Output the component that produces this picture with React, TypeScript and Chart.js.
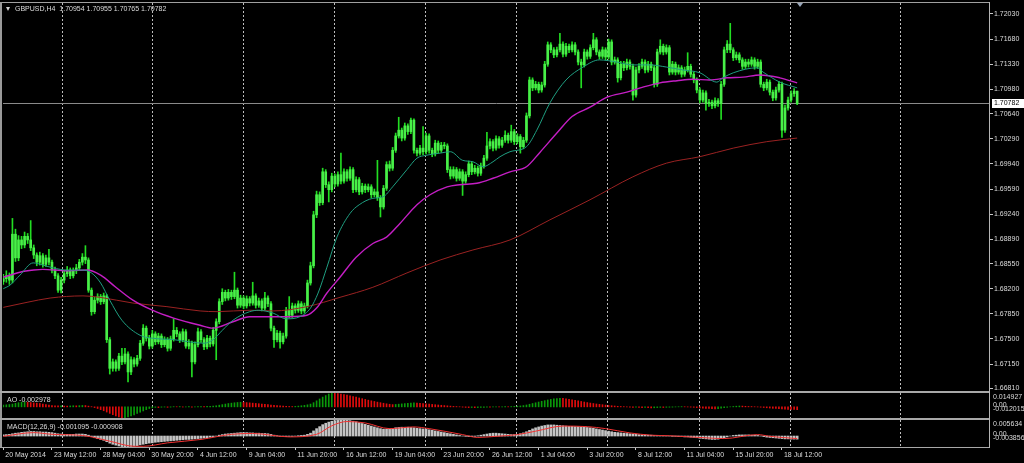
import React, { useEffect, useRef } from 'react';
import { Chart, registerables } from 'chart.js';

Chart.register(...registerables);

const FONT = '"Liberation Sans", Arial, sans-serif';

const symbolTitle = 'GBPUSD,H4';
const firstOpen = 1.683;

const closes = [
  1.6834, 1.6838, 1.6832, 1.6896, 1.6863, 1.6888, 1.6881, 1.6893, 1.6888, 1.6877,
  1.6867, 1.6857, 1.6866, 1.6854, 1.6863, 1.6857, 1.6846, 1.6838, 1.6818, 1.6832,
  1.6841, 1.6846, 1.6838, 1.6845, 1.6849, 1.6857, 1.6864, 1.686, 1.6818, 1.6788,
  1.6804, 1.6809, 1.6802, 1.681, 1.6749, 1.6709, 1.6718, 1.6709, 1.6726, 1.6718,
  1.6729, 1.6704, 1.6721, 1.6715, 1.6723, 1.6744, 1.6765, 1.6751, 1.674, 1.6757,
  1.6746, 1.6754, 1.6742, 1.6749, 1.6737, 1.675, 1.6762, 1.6757, 1.6749, 1.676,
  1.674, 1.6744, 1.6718, 1.6742, 1.676, 1.6749, 1.6739, 1.6751, 1.6743, 1.6762,
  1.6774, 1.6802, 1.6815, 1.6807, 1.6815, 1.6809, 1.6818, 1.6797, 1.6807, 1.6796,
  1.6806, 1.68, 1.681, 1.6797, 1.6803, 1.6793, 1.6807, 1.6799, 1.6765, 1.6749,
  1.6758, 1.6746, 1.6754, 1.679, 1.6783, 1.6796, 1.679, 1.6799, 1.6789, 1.6796,
  1.6828, 1.6852, 1.6923, 1.6951, 1.694, 1.6983, 1.6965, 1.6958, 1.6977, 1.6966,
  1.6979, 1.697, 1.6983, 1.6974, 1.6986, 1.6958, 1.6972, 1.6955, 1.6963, 1.6958,
  1.6962, 1.6951, 1.6955, 1.6947, 1.6934, 1.696, 1.6993, 1.6988, 1.7013, 1.7033,
  1.7041, 1.703, 1.7047, 1.7039, 1.7055, 1.7013, 1.7009, 1.7016, 1.7011, 1.7033,
  1.7013, 1.7008, 1.7023, 1.7013, 1.702, 1.7019, 1.6986, 1.6977, 1.6986, 1.6974,
  1.6983, 1.697, 1.6979, 1.6994, 1.6983, 1.6988, 1.6981, 1.6991, 1.7002, 1.7019,
  1.7025, 1.7016, 1.7029, 1.702, 1.7027, 1.7034, 1.7027, 1.7039, 1.7025, 1.7032,
  1.7018, 1.7027, 1.7061, 1.7111, 1.71, 1.7105, 1.7097, 1.7104, 1.7133, 1.716,
  1.7153, 1.7146, 1.7153, 1.7161, 1.7147, 1.7158, 1.7153, 1.716, 1.715, 1.7136,
  1.7132, 1.715, 1.7144, 1.7156, 1.7167, 1.715, 1.7144, 1.7153, 1.7143, 1.7164,
  1.7136, 1.7139, 1.7114, 1.7133, 1.7128, 1.7136, 1.713, 1.709, 1.7125, 1.713,
  1.7136, 1.7125, 1.7133, 1.7128, 1.7105, 1.715, 1.7158, 1.715, 1.7156, 1.7122,
  1.7133, 1.7122, 1.7128, 1.7119, 1.7125, 1.713, 1.7119, 1.7111, 1.7097, 1.7083,
  1.7093, 1.7078, 1.708, 1.7075, 1.7082, 1.7078, 1.7105, 1.7153, 1.7161, 1.7153,
  1.7142, 1.7146, 1.7139, 1.713, 1.7136, 1.7133, 1.7139, 1.713, 1.7136, 1.7105,
  1.71, 1.7108, 1.7094, 1.7086, 1.7097, 1.7105, 1.7041, 1.7072, 1.7083, 1.7092,
  1.70954, 1.70782,
];

const highs = [
  1.684, 1.6845, 1.6842, 1.6918, 1.6903, 1.6894, 1.6893, 1.6899, 1.6897, 1.6915,
  1.6881, 1.687, 1.6871, 1.6869, 1.6867, 1.6875, 1.686, 1.685, 1.6841, 1.6836,
  1.6845, 1.6851, 1.6849, 1.6849, 1.6854, 1.6861, 1.6869, 1.688, 1.6863, 1.6821,
  1.6808, 1.6813, 1.6812, 1.6814, 1.6812, 1.6752, 1.6722, 1.6721, 1.673, 1.6737,
  1.6737, 1.6732, 1.6725, 1.6724, 1.6727, 1.6748, 1.677, 1.6768, 1.6755, 1.6762,
  1.676, 1.6758, 1.6757, 1.6753, 1.6752, 1.6754, 1.6778, 1.6766, 1.676, 1.6764,
  1.6763, 1.6749, 1.6747, 1.6746, 1.6765, 1.6763, 1.6752, 1.6755, 1.6754, 1.6766,
  1.6778, 1.6806, 1.682, 1.6818, 1.6819, 1.6818, 1.6843, 1.6821, 1.6811, 1.681,
  1.681, 1.6809, 1.6829, 1.6813, 1.6807, 1.6806, 1.6815, 1.681, 1.6802, 1.6768,
  1.6762, 1.6761, 1.6758, 1.6794, 1.6809, 1.68, 1.6799, 1.6803, 1.6802, 1.68,
  1.6832, 1.6857, 1.6928, 1.6956, 1.6955, 1.6988, 1.6986, 1.6969, 1.6981, 1.698,
  1.6983, 1.7009, 1.6987, 1.6986, 1.699, 1.6989, 1.6976, 1.6975, 1.6967, 1.6966,
  1.6966, 1.6965, 1.6959, 1.6999, 1.695, 1.6964, 1.6997, 1.6998, 1.7017, 1.7037,
  1.7059, 1.7044, 1.7051, 1.705, 1.7058, 1.7057, 1.7016, 1.702, 1.7046, 1.7037,
  1.7036, 1.7016, 1.7027, 1.7026, 1.7024, 1.7024, 1.7022, 1.699, 1.699, 1.6989,
  1.6987, 1.6986, 1.6983, 1.6998, 1.6997, 1.6992, 1.6991, 1.6995, 1.7006, 1.7038,
  1.7029, 1.7028, 1.7033, 1.7032, 1.7031, 1.704, 1.7037, 1.7048, 1.7042, 1.7036,
  1.7035, 1.7031, 1.7065, 1.7115, 1.7114, 1.7109, 1.7108, 1.7108, 1.7137, 1.7164,
  1.7163, 1.7156, 1.7157, 1.7176, 1.7164, 1.7162, 1.7161, 1.7164, 1.7163, 1.7153,
  1.714, 1.7154, 1.7153, 1.716, 1.7176, 1.717, 1.7153, 1.7157, 1.7156, 1.7168,
  1.7167, 1.7143, 1.7142, 1.7137, 1.7137, 1.714, 1.7139, 1.7133, 1.7129, 1.7134,
  1.714, 1.7139, 1.7137, 1.7136, 1.7131, 1.7154, 1.7167, 1.7161, 1.716, 1.7159,
  1.7137, 1.7136, 1.7132, 1.7131, 1.7129, 1.7149, 1.7133, 1.7122, 1.7114, 1.71,
  1.7097, 1.7096, 1.7084, 1.7083, 1.7086, 1.7085, 1.7109, 1.7157, 1.7166, 1.719,
  1.7156, 1.715, 1.7149, 1.7142, 1.714, 1.714, 1.7143, 1.7142, 1.714, 1.7139,
  1.7108, 1.7112, 1.7111, 1.7097, 1.7101, 1.7109, 1.7108, 1.7076, 1.7087, 1.7096,
  1.7099, 1.70955,
];

const lows = [
  1.6826, 1.6829, 1.6826, 1.6828, 1.6858, 1.6859, 1.6876, 1.6877, 1.6883, 1.6873,
  1.6862, 1.6852, 1.6853, 1.685, 1.6851, 1.6853, 1.6842, 1.6834, 1.6815, 1.6814,
  1.6828, 1.6837, 1.6834, 1.6835, 1.6841, 1.6846, 1.6853, 1.6855, 1.6815, 1.6783,
  1.6785, 1.68, 1.6798, 1.6799, 1.6745, 1.6701, 1.6705, 1.6705, 1.6706, 1.6714,
  1.6715, 1.669, 1.67, 1.6711, 1.6712, 1.672, 1.6741, 1.6747, 1.6736, 1.6737,
  1.6742, 1.6743, 1.6738, 1.6739, 1.6733, 1.6734, 1.6747, 1.6753, 1.6745, 1.6746,
  1.6737, 1.6736, 1.6697, 1.6715, 1.6739, 1.6745, 1.6735, 1.6736, 1.6739, 1.674,
  1.6721, 1.6771, 1.6798, 1.6803, 1.6804, 1.6805, 1.6806, 1.6793, 1.6794, 1.6792,
  1.6793, 1.6796, 1.6797, 1.6793, 1.6794, 1.6789, 1.679, 1.6795, 1.6761, 1.6738,
  1.6746, 1.6737, 1.6743, 1.6751, 1.6779, 1.678, 1.6786, 1.6787, 1.6785, 1.6786,
  1.6793, 1.6825, 1.6849, 1.6919, 1.6936, 1.6937, 1.6961, 1.6941, 1.6955, 1.6962,
  1.6963, 1.6966, 1.6967, 1.697, 1.6971, 1.6954, 1.6955, 1.6951, 1.6952, 1.6954,
  1.6955, 1.6947, 1.6948, 1.6943, 1.692, 1.6931, 1.6957, 1.6984, 1.6985, 1.701,
  1.703, 1.7026, 1.7027, 1.7035, 1.7036, 1.7009, 1.7005, 1.7006, 1.7007, 1.7008,
  1.7009, 1.7004, 1.7005, 1.7009, 1.701, 1.7015, 1.6982, 1.6973, 1.6974, 1.697,
  1.6971, 1.695, 1.6967, 1.6976, 1.6979, 1.698, 1.6977, 1.6978, 1.6988, 1.6999,
  1.7015, 1.7012, 1.7013, 1.7016, 1.7017, 1.7024, 1.7023, 1.7024, 1.7021, 1.7022,
  1.7009, 1.7015, 1.7024, 1.7058, 1.7096, 1.7097, 1.7093, 1.7094, 1.7101, 1.713,
  1.7149, 1.7142, 1.7143, 1.715, 1.7143, 1.7144, 1.7149, 1.715, 1.7146, 1.7132,
  1.71, 1.7129, 1.714, 1.7141, 1.7153, 1.7146, 1.714, 1.7141, 1.7139, 1.714,
  1.7132, 1.7133, 1.7108, 1.7111, 1.7124, 1.7125, 1.7126, 1.7083, 1.7087, 1.7121,
  1.7127, 1.7121, 1.7122, 1.7124, 1.7101, 1.7102, 1.7147, 1.7146, 1.7147, 1.7118,
  1.7119, 1.7118, 1.7119, 1.7115, 1.7116, 1.7122, 1.7115, 1.7107, 1.7093, 1.7079,
  1.708, 1.7069, 1.7074, 1.7071, 1.7072, 1.7074, 1.7056, 1.7102, 1.7149, 1.7149,
  1.7138, 1.7139, 1.7135, 1.7126, 1.7127, 1.7129, 1.713, 1.7126, 1.7127, 1.7101,
  1.7096, 1.7097, 1.709, 1.7082, 1.7083, 1.7094, 1.7031, 1.7038, 1.7069, 1.708,
  1.7088, 1.70765,
];

// moving averages: [bar, price]
const fastMa = [
  [0, 1.682], [2.2, 1.6825], [5.5, 1.6839], [9.8, 1.6856], [13, 1.6853], [16.4, 1.6849], [21, 1.6846],
  [26, 1.6846], [29, 1.6842], [32, 1.6828], [35, 1.6804], [39, 1.6776], [45, 1.6755], [49, 1.6751],
  [56, 1.6749], [61, 1.6746], [66, 1.6744], [69, 1.6749], [72, 1.6762], [75.5, 1.6776], [81, 1.6788],
  [84, 1.679], [88.7, 1.6786], [93, 1.6778], [97.5, 1.6781], [101, 1.6793], [103.5, 1.6814],
  [106.4, 1.685], [109.7, 1.6892], [114, 1.6925], [117, 1.6937], [121.5, 1.6946], [124.8, 1.6948],
  [128, 1.6962], [132.7, 1.6986], [136, 1.7002], [139, 1.7006], [143.6, 1.7009], [147, 1.7011],
  [151, 1.6999], [154.4, 1.6997], [157.7, 1.699], [161, 1.6997], [163.3, 1.7004], [166.6, 1.7011],
  [172, 1.7018], [175.4, 1.7041], [179.7, 1.7079], [185, 1.7111], [190.6, 1.7129], [196, 1.7139],
  [201.7, 1.7136], [207, 1.7132], [212.6, 1.7132], [218, 1.7129], [223.4, 1.7125], [229, 1.7121],
  [234.6, 1.7108], [236.6, 1.7114], [240, 1.7121], [247.8, 1.7128], [249.8, 1.7122], [255.3, 1.7108],
  [261, 1.71],
];
const midMa = [
  [0, 1.6836], [5.5, 1.6843], [10, 1.6846], [13, 1.6847], [21, 1.6845], [27.5, 1.6846], [32, 1.6839],
  [37, 1.6822], [42.6, 1.6804], [49, 1.679], [56, 1.6779], [64.7, 1.6769], [69, 1.6765], [75.5, 1.6774],
  [81, 1.6781], [84, 1.6781], [94, 1.6781], [99.8, 1.6783], [103, 1.6793], [106.4, 1.6814],
  [110.7, 1.6836], [116, 1.6864], [121.5, 1.6883], [126, 1.6892], [130.4, 1.6911], [136, 1.6937],
  [140.3, 1.6951], [145.9, 1.6962], [150, 1.6965], [155.7, 1.6967], [161, 1.6974], [166.6, 1.6983],
  [172, 1.699], [176.4, 1.701], [182, 1.7037], [187, 1.706], [192.9, 1.7073], [198.5, 1.7087],
  [205, 1.7094], [210.3, 1.7101], [215.9, 1.7107], [221.5, 1.711], [226.7, 1.7112], [232.3, 1.7111],
  [238, 1.7114], [243.2, 1.7115], [248.8, 1.7118], [255.3, 1.7114], [261, 1.7107],
];
const slowMa = [
  [0, 1.6794], [7.8, 1.6801], [15.4, 1.6807], [26.2, 1.681], [31.8, 1.6808], [42.6, 1.68], [53.8, 1.6795],
  [64.7, 1.6789], [70.3, 1.6788], [81.1, 1.679], [88.7, 1.6789], [99.8, 1.6795], [110.7, 1.6808],
  [121.5, 1.6822], [132.7, 1.6842], [143.6, 1.686], [154.4, 1.6874], [166.6, 1.6888], [179.7, 1.6916],
  [192.9, 1.6944], [207, 1.6976], [218, 1.6995], [229, 1.7004], [240, 1.7016], [251, 1.7025], [261, 1.703],
];

const aoValues = [
  0.002, 0.0022, 0.0025, 0.003, 0.0038, 0.0045, 0.005, 0.0052,
  0.005, 0.0047, 0.0043, 0.004, 0.0036, 0.003, 0.0025, 0.002, 0.0015,
  0.0012, 0.001, 0.0011, 0.0009, 0.0008, 0.001, 0.0012, 0.0011, 0.0013, 0.0015, 0.0014, 0.0008, 0.0002,
  -0.0008, -0.0018, -0.003, -0.0042, -0.0056, -0.007, -0.0084, -0.0097, -0.0108, -0.012, -0.0116, -0.0108,
  -0.0098, -0.0086, -0.0072, -0.0058, -0.0044, -0.003, -0.0018,
  -0.001, -0.0006, -0.0008, -0.0004, -0.0002, -0.0005, -0.0003, 0.0002, 0.0001, 0.0003, -0.0002, -0.0001,
  0.0002, -0.0003, 0.0, 0.0002, 0.0004, 0.0003, 0.0005, 0.0006, 0.0008,
  0.0012, 0.0018, 0.0024, 0.003, 0.0036, 0.004, 0.0044, 0.0047, 0.005,
  0.0048, 0.0046, 0.0043, 0.004, 0.0037, 0.0034, 0.003, 0.0027, 0.0024, 0.002, 0.0017, 0.0013, 0.001,
  0.0008, 0.0006, 0.0004, 0.0003,
  0.0005, 0.0008, 0.0012, 0.0016, 0.0022, 0.003,
  0.0045, 0.0065, 0.0085, 0.0105, 0.0122, 0.0138, 0.0149,
  0.0146, 0.0142, 0.0138, 0.0133, 0.0127, 0.012, 0.0112, 0.0104, 0.0096, 0.0088, 0.008, 0.0072, 0.0065,
  0.0058, 0.0051, 0.0045, 0.0039, 0.0033, 0.0028, 0.0024,
  0.0026, 0.0029, 0.0032, 0.0035, 0.0038, 0.0041, 0.0043,
  0.0041, 0.0038, 0.0035, 0.0032, 0.0029, 0.0026, 0.0023, 0.002, 0.0017, 0.0014, 0.0011, 0.0008, 0.0005,
  0.0003, 0.0001,
  -0.0003, -0.0006, -0.0008, -0.0007, -0.0009, -0.0008, -0.0006, -0.0005, -0.0003, -0.0004, -0.0002, 0.0,
  -0.0001, 0.0001, 0.0002, 0.0001, 0.0003, 0.0005, 0.0007,
  0.001, 0.0014, 0.002, 0.0028, 0.0036, 0.0044, 0.0052, 0.006, 0.0067, 0.0074, 0.008, 0.0086, 0.009, 0.0093,
  0.0091, 0.0087, 0.0082, 0.0076, 0.007, 0.0064, 0.0058, 0.0052, 0.0046, 0.0041, 0.0036, 0.0031,
  0.0027, 0.0023, 0.0019, 0.0015, 0.0012, 0.0009, 0.0006, 0.0004,
  0.0002, -0.0001, -0.0003, -0.0005, -0.0004, -0.0006, -0.0008, -0.0007, -0.0009, -0.0011, -0.001, -0.0008,
  -0.0006, -0.0007, -0.0005, -0.0004,
  -0.0003, -0.0001, 0.0001, 0.0002, 0.0001, -0.0001, -0.0003, -0.0005, -0.0008, -0.0011, -0.0013, -0.0016,
  -0.0018, -0.002, -0.0021, -0.0019, -0.0015, -0.001, -0.0005, 0.0, 0.0004, 0.0007, 0.0009, 0.0008, 0.0006,
  0.0004, 0.0003, 0.0001, -0.0001, -0.0004, -0.0007, -0.001, -0.0013, -0.0016, -0.0018, -0.0019, -0.0022,
  -0.0025, -0.0027, -0.0028, -0.0029, -0.002978,
];

const macdValues = [
  0.0004, 0.0005, 0.0006, 0.0008, 0.001, 0.0011,
  0.0013, 0.0014, 0.0015, 0.0016, 0.0016, 0.0015, 0.0015, 0.0014, 0.0014, 0.0013, 0.0012,
  0.001, 0.0008, 0.0007, 0.0006, 0.0006, 0.0006, 0.0006, 0.0007, 0.0007, 0.0007, 0.0006, 0.0003,
  -0.0002, -0.0006, -0.0009, -0.0012, -0.0015, -0.002,
  -0.0025, -0.0029, -0.0032, -0.0035, -0.0037, -0.0038, -0.0038, -0.0037, -0.0036, -0.0034, -0.0031, -0.0029,
  -0.0027, -0.0025, -0.0024, -0.0022, -0.0021, -0.002, -0.0019, -0.0018, -0.0017, -0.0016, -0.0015, -0.0014,
  -0.0013, -0.0012, -0.0012, -0.0011, -0.001, -0.0009, -0.0008, -0.0007, -0.0006, -0.0004, -0.0002, 0.0,
  0.0003, 0.0005, 0.0007, 0.0008, 0.0009, 0.001, 0.0011, 0.0012, 0.0012, 0.0012, 0.0011, 0.0011, 0.001,
  0.001, 0.0009, 0.0009, 0.0008, 0.0006, 0.0003, 0.0001, -0.0001, -0.0002, -0.0002, -0.0001, -0.0001,
  0.0, 0.0001, 0.0002, 0.0003, 0.0006, 0.001,
  0.0018, 0.0026, 0.0033, 0.004, 0.0045, 0.0049, 0.0052,
  0.0054, 0.0055, 0.0056, 0.0056, 0.0055, 0.0054, 0.0052, 0.005, 0.0047, 0.0044, 0.0041, 0.0038,
  0.0035, 0.0032, 0.0029, 0.0026, 0.0024, 0.0024, 0.0025, 0.0027,
  0.0029, 0.003, 0.0031, 0.0031, 0.0031, 0.003, 0.0029, 0.0027, 0.0026, 0.0025, 0.0024, 0.0022,
  0.002, 0.0018, 0.0016, 0.0014, 0.0012, 0.001, 0.0008, 0.0006, 0.0004, 0.0002, 0.0, -0.0001, -0.0002,
  -0.0002, -0.0001,
  0.0001, 0.0003, 0.0005, 0.0007, 0.0009, 0.001, 0.001, 0.0009, 0.0008, 0.0007, 0.0006, 0.0005, 0.0005, 0.0006,
  0.0008, 0.0011, 0.0015, 0.002, 0.0025, 0.0029, 0.0032, 0.0035, 0.0037, 0.0039, 0.0039, 0.0039, 0.0038, 0.0037,
  0.0036, 0.0035, 0.0034, 0.0034, 0.0033, 0.0033, 0.0032, 0.0031, 0.003, 0.0029, 0.0027, 0.0025,
  0.0023, 0.0021, 0.0019, 0.0017, 0.0015, 0.0013, 0.0012, 0.0011, 0.001, 0.0009, 0.0008, 0.0007,
  0.0006, 0.0005, 0.0004, 0.0004, 0.0003, 0.0003, 0.0002, 0.0002, 0.0001, 0.0001, 0.0, 0.0,
  -0.0001, -0.0001, -0.0002, -0.0002, -0.0003, -0.0003, -0.0004, -0.0005, -0.0006, -0.0008, -0.0009, -0.001,
  -0.0011, -0.0012, -0.0012, -0.0011, -0.0009, -0.0006,
  -0.0003, 0.0, 0.0002, 0.0003, 0.0004, 0.0004, 0.0004, 0.0004, 0.0003, 0.0003, 0.0002, 0.0, -0.0002,
  -0.0004, -0.0005, -0.0006, -0.0007, -0.0008, -0.0009, -0.001, -0.001, -0.0011, -0.0011, -0.001095,
];

const macdSignal = [
  [0, -0.0001], [10, 0.0012], [16, 0.0006], [26, 0.0002], [35, -0.0018], [43, -0.0036], [46, -0.0036],
  [54, -0.0024], [65, -0.0012], [75, 0.0006], [82, 0.0009], [94, -0.0003], [103, 0.0006], [108, 0.0036],
  [113, 0.0051], [119, 0.0046], [127, 0.0026], [135, 0.0032], [140, 0.0026], [151, 0.0005], [156, -0.0005],
  [162, -0.0001], [169, 0.0005], [175, 0.0017], [184, 0.0035], [192, 0.0033], [198, 0.0026], [206, 0.0011],
  [213, 0.0003], [219, 0.0001], [232, -0.0007], [237, -0.0009], [248, 0.0005], [252, -0.0001], [261, -0.000908],
];

const priceTicks = [
  1.7203, 1.7168, 1.7133, 1.7098, 1.7064, 1.7029, 1.6994, 1.6959,
  1.6924, 1.6889, 1.6855, 1.682, 1.6785, 1.675, 1.6715, 1.6681,
];
const timeLabels = [
  '20 May 2014', '23 May 12:00', '28 May 04:00', '30 May 20:00', '4 Jun 12:00', '9 Jun 04:00',
  '11 Jun 20:00', '16 Jun 12:00', '19 Jun 04:00', '23 Jun 20:00', '26 Jun 12:00', '1 Jul 04:00',
  '3 Jul 20:00', '8 Jul 12:00', '11 Jul 04:00', '15 Jul 20:00', '18 Jul 12:00',
];
const timeLabelBars = [0, 16, 32, 48, 64, 80, 96, 112, 128, 144, 160, 176, 192, 208, 224, 240, 256];
const gridBars = [19.3, 49.2, 79.1, 109.05, 138.96, 168.88, 198.8, 229.04, 258.95, 295.1];

const aoRange = [-0.012015, 0.014927];
const macdRange = [-0.003856, 0.005634];
const priceRange = [1.66788, 1.72183];
const barRange = [-0.1, 324.4];

const AXIS_W = 34;
const TEXT = '#dcdcdc';
const GRID = '#bdbdbd';

const idx = closes.map((_, i) => i);
const opens = closes.map((c, i) => (i === 0 ? firstOpen : closes[i - 1]));
const last = closes.length - 1;

const gridAxis = (position: string) => ({
  type: 'linear',
  position,
  min: barRange[0],
  max: barRange[1],
  offset: false,
  bounds: 'data',
  grid: { offset: false, color: GRID, lineWidth: 1, drawTicks: false, drawOnChartArea: true },
  border: { display: false, dash: [2, 2] },
  ticks: { display: false },
  afterBuildTicks: (s: any) => {
    s.ticks = gridBars.map((v) => ({ value: v }));
  },
  afterFit: (s: any) => {
    s.height = 0;
    s.paddingLeft = 0;
    s.paddingRight = 0;
  },
});

const hiddenY = (range: number[]) => ({
  type: 'linear',
  position: 'right',
  min: range[0],
  max: range[1],
  beginAtZero: false,
  grid: { display: false },
  border: { display: false },
  ticks: { display: false },
  afterFit: (s: any) => {
    s.width = AXIS_W;
    s.paddingTop = 0;
    s.paddingBottom = 0;
  },
});

const baseOptions = {
  animation: false,
  responsive: false,
  devicePixelRatio: 1,
  events: [],
  plugins: { legend: { display: false }, tooltip: { enabled: false } },
};

const subAxisLabels = (range: number[]) => ({
  id: 'subAxisLabels',
  afterDraw(chart: any) {
    const s = chart.scales.y;
    const ctx = chart.ctx;
    ctx.save();
    ctx.font = `7px ${FONT}`;
    ctx.fillStyle = TEXT;
    ctx.textAlign = 'left';
    ctx.textBaseline = 'middle';
    const x = s.left + 3;
    const zero = s.getPixelForValue(0);
    ctx.fillText(range[1].toFixed(6), x, s.getPixelForValue(range[1]) + 4.5);
    ctx.fillText('0.00', x, zero - 1.5);
    ctx.fillText(range[0].toFixed(6), x, zero + 2);
    ctx.restore();
  },
});

const lastPricePlugin = {
  id: 'lastPrice',
  beforeDatasetsDraw(chart: any) {
    const { ctx, chartArea } = chart;
    const y = Math.round(chart.scales.y.getPixelForValue(closes[last])) + 0.5;
    ctx.save();
    ctx.strokeStyle = '#8a8a8a';
    ctx.lineWidth = 1;
    ctx.beginPath();
    ctx.moveTo(chartArea.left, y);
    ctx.lineTo(chartArea.right, y);
    ctx.stroke();
    ctx.restore();
  },
  afterDraw(chart: any) {
    const s = chart.scales.y;
    const ctx = chart.ctx;
    const y = Math.round(s.getPixelForValue(closes[last]));
    ctx.save();
    ctx.fillStyle = '#ffffff';
    ctx.fillRect(s.left + 2, y - 4, 32, 9);
    ctx.fillStyle = '#000000';
    ctx.font = `7px ${FONT}`;
    ctx.textAlign = 'left';
    ctx.textBaseline = 'middle';
    ctx.fillText(closes[last].toFixed(5), s.left + 4, y + 0.5);
    ctx.restore();
  },
};

const toPts = (arr: number[][]) => arr.map(([x, y]) => ({ x, y }));

function mainConfig(): any {
  return {
    type: 'bar',
    data: {
      datasets: [
        {
          type: 'line', label: 'MA fast', data: toPts(fastMa), borderColor: '#1f9e80', borderWidth: 1,
          pointRadius: 0, cubicInterpolationMode: 'monotone', order: 0,
        },
        {
          type: 'line', label: 'MA mid', data: toPts(midMa), borderColor: '#c41ec4', borderWidth: 1.4,
          pointRadius: 0, cubicInterpolationMode: 'monotone', order: 0,
        },
        {
          type: 'line', label: 'MA slow', data: toPts(slowMa), borderColor: '#9a2222', borderWidth: 1,
          pointRadius: 0, cubicInterpolationMode: 'monotone', order: 0,
        },
        {
          type: 'bar', label: 'body', data: idx.map((i) => ({ x: i, y: [opens[i], closes[i]] })),
          backgroundColor: '#48f048', barThickness: 2, minBarLength: 1, grouped: false, order: 1,
        },
        {
          type: 'bar', label: 'wick', data: idx.map((i) => ({ x: i, y: [lows[i], highs[i]] })),
          backgroundColor: '#22dd22', barThickness: 1, grouped: false, order: 2,
        },
      ],
    },
    options: {
      ...baseOptions,
      layout: { padding: { left: 3, top: 3, right: 0, bottom: 1 } },
      scales: {
        x: gridAxis('bottom'),
        y: {
          type: 'linear',
          position: 'right',
          min: priceRange[0],
          max: priceRange[1],
          beginAtZero: false,
          grid: { drawOnChartArea: false, drawTicks: true, tickLength: 3, tickColor: '#c8c8c8', color: '#c8c8c8' },
          border: { display: false },
          ticks: {
            color: TEXT, font: { family: FONT, size: 7 }, padding: 1, autoSkip: false,
            callback: (v: any) => Number(v).toFixed(5),
          },
          afterBuildTicks: (s: any) => {
            s.ticks = priceTicks.map((v) => ({ value: v }));
          },
          afterFit: (s: any) => {
            s.width = AXIS_W;
            s.paddingTop = 0;
            s.paddingBottom = 0;
          },
        },
      },
    },
    plugins: [lastPricePlugin],
  };
}

function aoConfig(): any {
  return {
    type: 'bar',
    data: {
      datasets: [
        {
          label: 'AO',
          data: idx.map((i) => ({ x: i, y: aoValues[i] })),
          backgroundColor: idx.map((i) => (i > 0 && aoValues[i] < aoValues[i - 1] ? '#e00c0c' : '#0a990a')),
          barThickness: 1,
          grouped: false,
        },
      ],
    },
    options: {
      ...baseOptions,
      layout: { padding: { left: 3, top: 0, right: 0, bottom: 0 } },
      scales: { x: gridAxis('bottom'), y: hiddenY(aoRange) },
    },
    plugins: [subAxisLabels(aoRange)],
  };
}

function macdConfig(): any {
  return {
    type: 'bar',
    data: {
      datasets: [
        {
          type: 'line', label: 'Signal', data: toPts(macdSignal), borderColor: '#f23232', borderWidth: 1,
          pointRadius: 0, cubicInterpolationMode: 'monotone', order: 0,
        },
        {
          type: 'bar', label: 'MACD', data: idx.map((i) => ({ x: i, y: macdValues[i] })),
          backgroundColor: '#c4c4c4', barThickness: 2, grouped: false, order: 1,
        },
      ],
    },
    options: {
      ...baseOptions,
      layout: { padding: { left: 3, top: 0, right: 0, bottom: 0 } },
      scales: {
        x: gridAxis('top'),
        xl: {
          type: 'linear',
          axis: 'x',
          position: 'bottom',
          min: barRange[0],
          max: barRange[1],
          offset: false,
          bounds: 'data',
          grid: { offset: false, drawOnChartArea: false, drawTicks: true, tickLength: 3, tickColor: '#c8c8c8', color: '#c8c8c8' },
          border: { display: false },
          ticks: {
            autoSkip: false, maxRotation: 0, minRotation: 0, align: 'start', padding: 1, labelOffset: 2,
            color: TEXT, font: { family: FONT, size: 7 },
            callback: (_v: any, i: number) => timeLabels[i],
          },
          afterBuildTicks: (s: any) => {
            s.ticks = timeLabelBars.map((v) => ({ value: v }));
          },
          afterFit: (s: any) => {
            s.height = 16;
            s.paddingLeft = 0;
            s.paddingRight = 0;
          },
        },
        y: hiddenY(macdRange),
      },
    },
    plugins: [subAxisLabels(macdRange)],
  };
}

const abs = (left: number, top: number, width: number, height: number, bg: string): React.CSSProperties => ({
  position: 'absolute', left, top, width, height, background: bg,
});

const textStyle = (left: number, top: number): React.CSSProperties => ({
  position: 'absolute', left, top, font: `7px ${FONT}`, lineHeight: '8px', color: TEXT, whiteSpace: 'pre',
});

export default function App() {
  const mainRef = useRef<HTMLCanvasElement>(null);
  const aoRef = useRef<HTMLCanvasElement>(null);
  const macdRef = useRef<HTMLCanvasElement>(null);

  useEffect(() => {
    const charts = [
      new Chart(mainRef.current as HTMLCanvasElement, mainConfig()),
      new Chart(aoRef.current as HTMLCanvasElement, aoConfig()),
      new Chart(macdRef.current as HTMLCanvasElement, macdConfig()),
    ];
    return () => charts.forEach((c) => c.destroy());
  }, []);

  const header = `${symbolTitle}  ${opens[last].toFixed(5)} ${highs[last].toFixed(5)} ${lows[last].toFixed(5)} ${closes[last].toFixed(5)}`;
  const aoText = `AO ${aoValues[last].toFixed(6)}`;
  const macdText = `MACD(12,26,9) ${macdValues[last].toFixed(6)} ${macdSignal[macdSignal.length - 1][1].toFixed(6)}`;

  return (
    <div style={{ position: 'fixed', left: 0, top: 0, width: 1024, height: 463, background: '#000', overflow: 'hidden' }}>
      <canvas ref={mainRef} width={1024} height={391} style={{ position: 'absolute', left: 0, top: 0 }} />
      <canvas ref={aoRef} width={1024} height={25} style={{ position: 'absolute', left: 0, top: 393 }} />
      <canvas ref={macdRef} width={1024} height={43} style={{ position: 'absolute', left: 0, top: 420 }} />
      <div style={abs(0, 2, 990, 1, '#a0a0a0')} />
      <div style={abs(0, 2, 2, 446, '#9a9a9a')} />
      <div style={abs(0, 391, 990, 2, '#a8a8a8')} />
      <div style={abs(0, 418, 990, 2, '#a8a8a8')} />
      <div style={abs(0, 447, 990, 1, '#a8a8a8')} />
      <div style={abs(989, 2, 1, 446, '#b4b4b4')} />
      <div
        style={{
          position: 'absolute', left: 6, top: 7, width: 0, height: 0,
          borderLeft: '2.5px solid transparent', borderRight: '2.5px solid transparent', borderTop: '4px solid #d0d0d0',
        }}
      />
      <div
        style={{
          position: 'absolute', left: 797, top: 3, width: 0, height: 0,
          borderLeft: '3.5px solid transparent', borderRight: '3.5px solid transparent', borderTop: '4px solid #9aa8bc',
        }}
      />
      <div style={textStyle(15, 5)}>{header}</div>
      <div style={textStyle(7, 396)}>{aoText}</div>
      <div style={textStyle(7, 423)}>{macdText}</div>
    </div>
  );
}
